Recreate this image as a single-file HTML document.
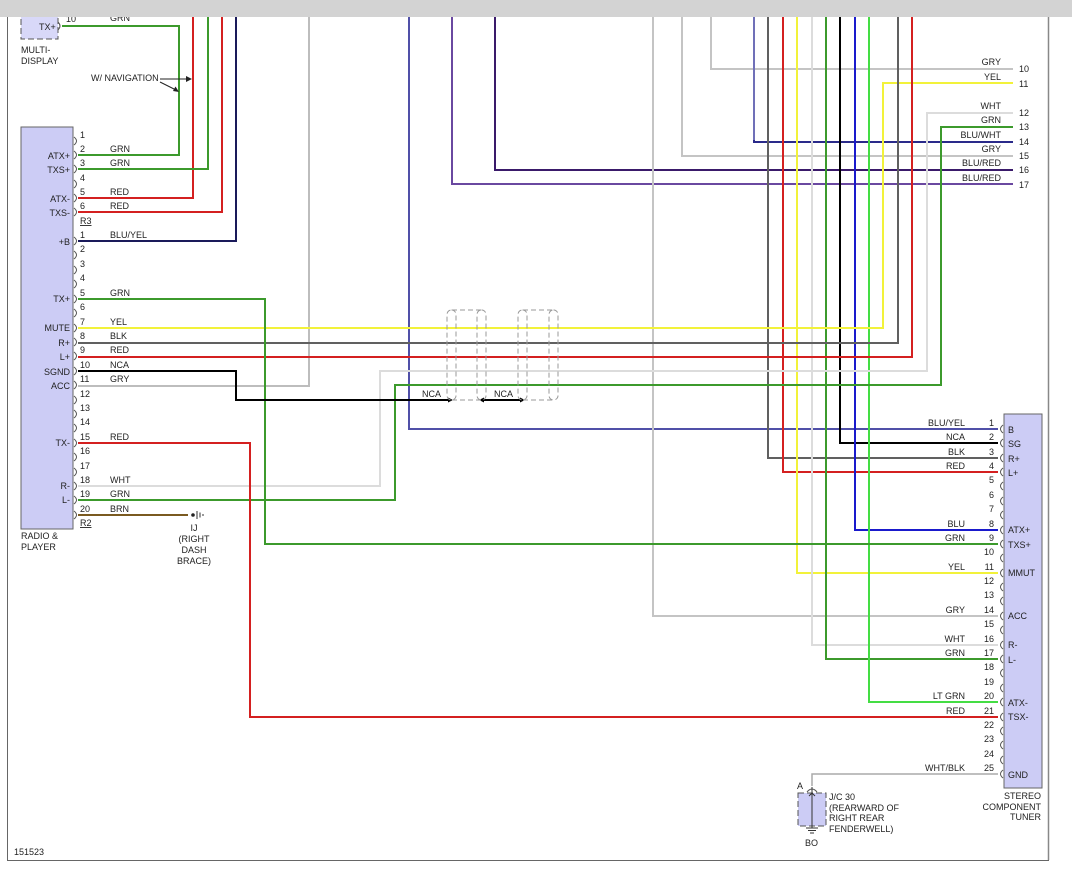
<!DOCTYPE html>
<html><head><meta charset="utf-8"><style>
html,body{margin:0;padding:0;background:#fff;}
svg{display:block;}
text{font-family:"Liberation Sans",Arial,sans-serif;font-size:9px;fill:#222;}
.w{fill:none;stroke-width:2;}
.r{text-anchor:end;}
.m{text-anchor:middle;}
.p{fill:none;stroke:#555;stroke-width:1;}
</style></head><body>
<svg width="1072" height="878" viewBox="0 0 1072 878" xmlns="http://www.w3.org/2000/svg">
<rect x="0" y="0" width="1072" height="878" fill="#fff"/>
<!-- frame -->
<line x1="7.5" y1="17" x2="7.5" y2="860" stroke="#666" stroke-width="1"/>
<line x1="1048.5" y1="17" x2="1048.5" y2="860" stroke="#888" stroke-width="1.5"/>
<line x1="7" y1="860.5" x2="1049" y2="860.5" stroke="#666" stroke-width="1"/>
<text x="14" y="855">151523</text>

<!-- wires -->
<path class="w" stroke="#3c9a2c" d="M62 26 H179 V155 H78"/>
<path class="w" stroke="#d42020" d="M193 17 V198 H78"/>
<path class="w" stroke="#3c9a2c" d="M208 17 V169 H78"/>
<path class="w" stroke="#d42020" d="M222 17 V212 H78"/>
<path class="w" stroke="#1a1a5a" d="M236 17 V241 H78"/>
<path class="w" stroke="#bdbdbd" d="M309 17 V386 H78"/>
<path class="w" stroke="#5050a8" d="M409 17 V429 H998"/>
<path class="w" stroke="#6a48a0" d="M452 17 V184 H1013"/>
<path class="w" stroke="#3a1a6a" d="M495 17 V170 H1013"/>
<path class="w" stroke="#c4c4c4" d="M653 17 V616 H998"/>
<path class="w" stroke="#c4c4c4" d="M682 17 V156 H1013"/>
<path class="w" stroke="#c4c4c4" d="M711 17 V69 H1013"/>
<path class="w" stroke="#2a2a8a" d="M1013 142 H754 V17"/>
<path class="w" stroke="#7070b8" d="M754 17 V140"/>
<path class="w" stroke="#606060" d="M768 17 V458 H998"/>
<path class="w" stroke="#d42020" d="M783 17 V472 H998"/>
<path class="w" stroke="#f2f23a" d="M797 17 V573 H998"/>
<path class="w" stroke="#dcdcdc" d="M812 17 V645 H998"/>
<path class="w" stroke="#3c9a2c" d="M826 17 V659 H998"/>
<path class="w" stroke="#000" d="M840 17 V443 H998"/>
<path class="w" stroke="#1a1acc" d="M855 17 V530 H998"/>
<path class="w" stroke="#44dd44" d="M869 17 V702 H998"/>
<path class="w" stroke="#f2f23a" d="M1013 83 H883 V328 H78"/>
<path class="w" stroke="#606060" d="M898 17 V343 H78"/>
<path class="w" stroke="#d42020" d="M912 17 V357 H78"/>
<path class="w" stroke="#dcdcdc" d="M1013 113 H927 V371 H380 V486 H78"/>
<path class="w" stroke="#3c9a2c" d="M1013 127 H941 V385 H395 V500 H78"/>
<path class="w" stroke="#3c9a2c" d="M78 299 H265 V544 H998"/>
<path class="w" stroke="#d42020" d="M78 443 H250 V717 H998"/>
<path class="w" stroke="#000" d="M78 371 H236 V400 H450"/>
<path class="w" stroke="#000" d="M482 400 H522"/>
<path d="M453 400 l-5 -2.5 v5z M479 400 l5 -2.5 v5z M525 400 l-5 -2.5 v5z" fill="#000"/>
<path class="w" stroke="#7a5a20" d="M78 515 H188"/>
<path fill="none" stroke="#aaa" stroke-width="1.5" d="M998 774 H812 V786"/>

<!-- shields -->
<g fill="none" stroke="#999" stroke-width="1" stroke-dasharray="5,3">
<rect x="447" y="310" width="9" height="90" rx="4.5"/>
<rect x="477" y="310" width="9" height="90" rx="4.5"/>
<line x1="452" y1="310" x2="481" y2="310"/>
<line x1="452" y1="400" x2="481" y2="400"/>
<rect x="518" y="310" width="9" height="90" rx="4.5"/>
<rect x="549" y="310" width="9" height="90" rx="4.5"/>
<line x1="523" y1="310" x2="553" y2="310"/>
<line x1="523" y1="400" x2="553" y2="400"/>
</g>
<text x="422" y="397">NCA</text>
<text x="494" y="397">NCA</text>

<!-- multi display -->
<rect x="21" y="10" width="37" height="29" fill="#d8d8f8" stroke="#555" stroke-dasharray="6,3"/>
<text x="39" y="30">TX+</text>
<path class="p" d="M58 22 q4 4 0 8"/>
<text x="66" y="22">10</text>
<text x="110" y="21">GRN</text>
<text x="21" y="53">MULTI-</text>
<text x="21" y="64">DISPLAY</text>
<text x="91" y="81">W/ NAVIGATION</text>
<path d="M160 79 H188" stroke="#222" stroke-width="1"/>
<path d="M192 79 l-6 -3 v6z" fill="#222"/>
<path d="M160 82 L176 90" stroke="#222" stroke-width="1"/>
<path d="M179 92 l-6 -1 l2.5 -4.5z" fill="#222"/>

<!-- top bar -->
<rect x="0" y="0" width="1072" height="17" fill="#d3d3d3"/>

<!-- radio -->
<rect x="21" y="127" width="52" height="402" fill="#ccccf5" stroke="#666"/>
<g class="p">
<path d="M74 137 q5 4 0 8"/><path d="M74 151 q5 4 0 8"/><path d="M74 165 q5 4 0 8"/><path d="M74 180 q5 4 0 8"/><path d="M74 194 q5 4 0 8"/><path d="M74 208 q5 4 0 8"/>
<path d="M74 237 q5 4 0 8"/><path d="M74 251 q5 4 0 8"/><path d="M74 266 q5 4 0 8"/><path d="M74 280 q5 4 0 8"/><path d="M74 295 q5 4 0 8"/><path d="M74 309 q5 4 0 8"/><path d="M74 324 q5 4 0 8"/><path d="M74 338 q5 4 0 8"/><path d="M74 352 q5 4 0 8"/><path d="M74 367 q5 4 0 8"/><path d="M74 381 q5 4 0 8"/><path d="M74 396 q5 4 0 8"/><path d="M74 410 q5 4 0 8"/><path d="M74 424 q5 4 0 8"/><path d="M74 439 q5 4 0 8"/><path d="M74 453 q5 4 0 8"/><path d="M74 468 q5 4 0 8"/><path d="M74 482 q5 4 0 8"/><path d="M74 496 q5 4 0 8"/><path d="M74 511 q5 4 0 8"/>
</g>
<g>
<text x="80" y="138">1</text><text x="80" y="152">2</text><text x="80" y="166">3</text><text x="80" y="181">4</text><text x="80" y="195">5</text><text x="80" y="209">6</text>
<text x="80" y="224" text-decoration="underline">R3</text>
<text x="80" y="238">1</text><text x="80" y="252">2</text><text x="80" y="267">3</text><text x="80" y="281">4</text><text x="80" y="296">5</text><text x="80" y="310">6</text><text x="80" y="325">7</text><text x="80" y="339">8</text><text x="80" y="353">9</text><text x="80" y="368">10</text><text x="80" y="382">11</text><text x="80" y="397">12</text><text x="80" y="411">13</text><text x="80" y="425">14</text><text x="80" y="440">15</text><text x="80" y="454">16</text><text x="80" y="469">17</text><text x="80" y="483">18</text><text x="80" y="497">19</text><text x="80" y="512">20</text>
<text x="80" y="526" text-decoration="underline">R2</text>
</g>
<g>
<text x="110" y="152">GRN</text><text x="110" y="166">GRN</text><text x="110" y="195">RED</text><text x="110" y="209">RED</text>
<text x="110" y="238">BLU/YEL</text><text x="110" y="296">GRN</text><text x="110" y="325">YEL</text><text x="110" y="339">BLK</text><text x="110" y="353">RED</text><text x="110" y="368">NCA</text><text x="110" y="382">GRY</text><text x="110" y="440">RED</text><text x="110" y="483">WHT</text><text x="110" y="497">GRN</text><text x="110" y="512">BRN</text>
</g>
<g class="r">
<text class="r" x="70" y="159">ATX+</text><text class="r" x="70" y="173">TXS+</text><text class="r" x="70" y="202">ATX-</text><text class="r" x="70" y="216">TXS-</text>
<text class="r" x="70" y="245">+B</text><text class="r" x="70" y="302">TX+</text><text class="r" x="70" y="331">MUTE</text><text class="r" x="70" y="346">R+</text><text class="r" x="70" y="360">L+</text><text class="r" x="70" y="375">SGND</text><text class="r" x="70" y="389">ACC</text><text class="r" x="70" y="446">TX-</text><text class="r" x="70" y="489">R-</text><text class="r" x="70" y="503">L-</text>
</g>
<text x="21" y="539">RADIO &amp;</text>
<text x="21" y="550">PLAYER</text>

<!-- ground IJ -->
<circle cx="193" cy="515" r="1.8" fill="#222"/>
<path d="M197 511 v8 M200 512.5 v5 M203 514 v2" stroke="#333" stroke-width="1"/>
<text class="m" x="194" y="531">IJ</text>
<text class="m" x="194" y="542">(RIGHT</text>
<text class="m" x="194" y="553">DASH</text>
<text class="m" x="194" y="564">BRACE)</text>

<!-- top right pins -->
<g>
<text x="1019" y="72">10</text><text x="1019" y="87">11</text><text x="1019" y="116">12</text><text x="1019" y="130">13</text><text x="1019" y="145">14</text><text x="1019" y="159">15</text><text x="1019" y="173">16</text><text x="1019" y="188">17</text>
<text class="r" x="1001" y="65">GRY</text><text class="r" x="1001" y="80">YEL</text><text class="r" x="1001" y="109">WHT</text><text class="r" x="1001" y="123">GRN</text><text class="r" x="1001" y="138">BLU/WHT</text><text class="r" x="1001" y="152">GRY</text><text class="r" x="1001" y="166">BLU/RED</text><text class="r" x="1001" y="181">BLU/RED</text>
</g>

<!-- tuner -->
<rect x="1004" y="414" width="38" height="374" fill="#ccccf5" stroke="#666"/>
<g class="p">
<path d="M1003 425 q-5 4 0 8"/><path d="M1003 439 q-5 4 0 8"/><path d="M1003 454 q-5 4 0 8"/><path d="M1003 468 q-5 4 0 8"/><path d="M1003 482 q-5 4 0 8"/><path d="M1003 497 q-5 4 0 8"/><path d="M1003 511 q-5 4 0 8"/><path d="M1003 526 q-5 4 0 8"/><path d="M1003 540 q-5 4 0 8"/><path d="M1003 554 q-5 4 0 8"/><path d="M1003 569 q-5 4 0 8"/><path d="M1003 583 q-5 4 0 8"/><path d="M1003 597 q-5 4 0 8"/><path d="M1003 612 q-5 4 0 8"/><path d="M1003 626 q-5 4 0 8"/><path d="M1003 641 q-5 4 0 8"/><path d="M1003 655 q-5 4 0 8"/><path d="M1003 669 q-5 4 0 8"/><path d="M1003 684 q-5 4 0 8"/><path d="M1003 698 q-5 4 0 8"/><path d="M1003 713 q-5 4 0 8"/><path d="M1003 727 q-5 4 0 8"/><path d="M1003 741 q-5 4 0 8"/><path d="M1003 756 q-5 4 0 8"/><path d="M1003 770 q-5 4 0 8"/>
</g>
<g>
<text class="r" x="994" y="426">1</text><text class="r" x="994" y="440">2</text><text class="r" x="994" y="455">3</text><text class="r" x="994" y="469">4</text><text class="r" x="994" y="483">5</text><text class="r" x="994" y="498">6</text><text class="r" x="994" y="512">7</text><text class="r" x="994" y="527">8</text><text class="r" x="994" y="541">9</text><text class="r" x="994" y="555">10</text><text class="r" x="994" y="570">11</text><text class="r" x="994" y="584">12</text><text class="r" x="994" y="598">13</text><text class="r" x="994" y="613">14</text><text class="r" x="994" y="627">15</text><text class="r" x="994" y="642">16</text><text class="r" x="994" y="656">17</text><text class="r" x="994" y="670">18</text><text class="r" x="994" y="685">19</text><text class="r" x="994" y="699">20</text><text class="r" x="994" y="714">21</text><text class="r" x="994" y="728">22</text><text class="r" x="994" y="742">23</text><text class="r" x="994" y="757">24</text><text class="r" x="994" y="771">25</text>
<text class="r" x="965" y="426">BLU/YEL</text><text class="r" x="965" y="440">NCA</text><text class="r" x="965" y="455">BLK</text><text class="r" x="965" y="469">RED</text><text class="r" x="965" y="527">BLU</text><text class="r" x="965" y="541">GRN</text><text class="r" x="965" y="570">YEL</text><text class="r" x="965" y="613">GRY</text><text class="r" x="965" y="642">WHT</text><text class="r" x="965" y="656">GRN</text><text class="r" x="965" y="699">LT GRN</text><text class="r" x="965" y="714">RED</text><text class="r" x="965" y="771">WHT/BLK</text>
</g>
<g>
<text x="1008" y="433">B</text><text x="1008" y="447">SG</text><text x="1008" y="462">R+</text><text x="1008" y="476">L+</text><text x="1008" y="533">ATX+</text><text x="1008" y="548">TXS+</text><text x="1008" y="576">MMUT</text><text x="1008" y="619">ACC</text><text x="1008" y="648">R-</text><text x="1008" y="663">L-</text><text x="1008" y="706">ATX-</text><text x="1008" y="720">TSX-</text><text x="1008" y="778">GND</text>
</g>
<text class="r" x="1041" y="799">STEREO</text>
<text class="r" x="1041" y="810">COMPONENT</text>
<text class="r" x="1041" y="820">TUNER</text>

<!-- J/C 30 -->
<rect x="798" y="793" width="28" height="33" fill="#ccccf5" stroke="#555" stroke-dasharray="6,3"/>
<path d="M807 792 q5 -6 10 0" fill="none" stroke="#555"/>
<line x1="812" y1="787" x2="812" y2="828" stroke="#333"/>
<path d="M809 796 l3 -3 l3 3" fill="none" stroke="#333"/>
<path d="M806 828 h12 M808 830.5 h8 M810 833 h4" stroke="#333" stroke-width="1"/>
<text x="797" y="789">A</text>
<text x="829" y="800">J/C 30</text>
<text x="829" y="811">(REARWARD OF</text>
<text x="829" y="821">RIGHT REAR</text>
<text x="829" y="832">FENDERWELL)</text>
<text x="805" y="846">BO</text>
</svg>
</body></html>
